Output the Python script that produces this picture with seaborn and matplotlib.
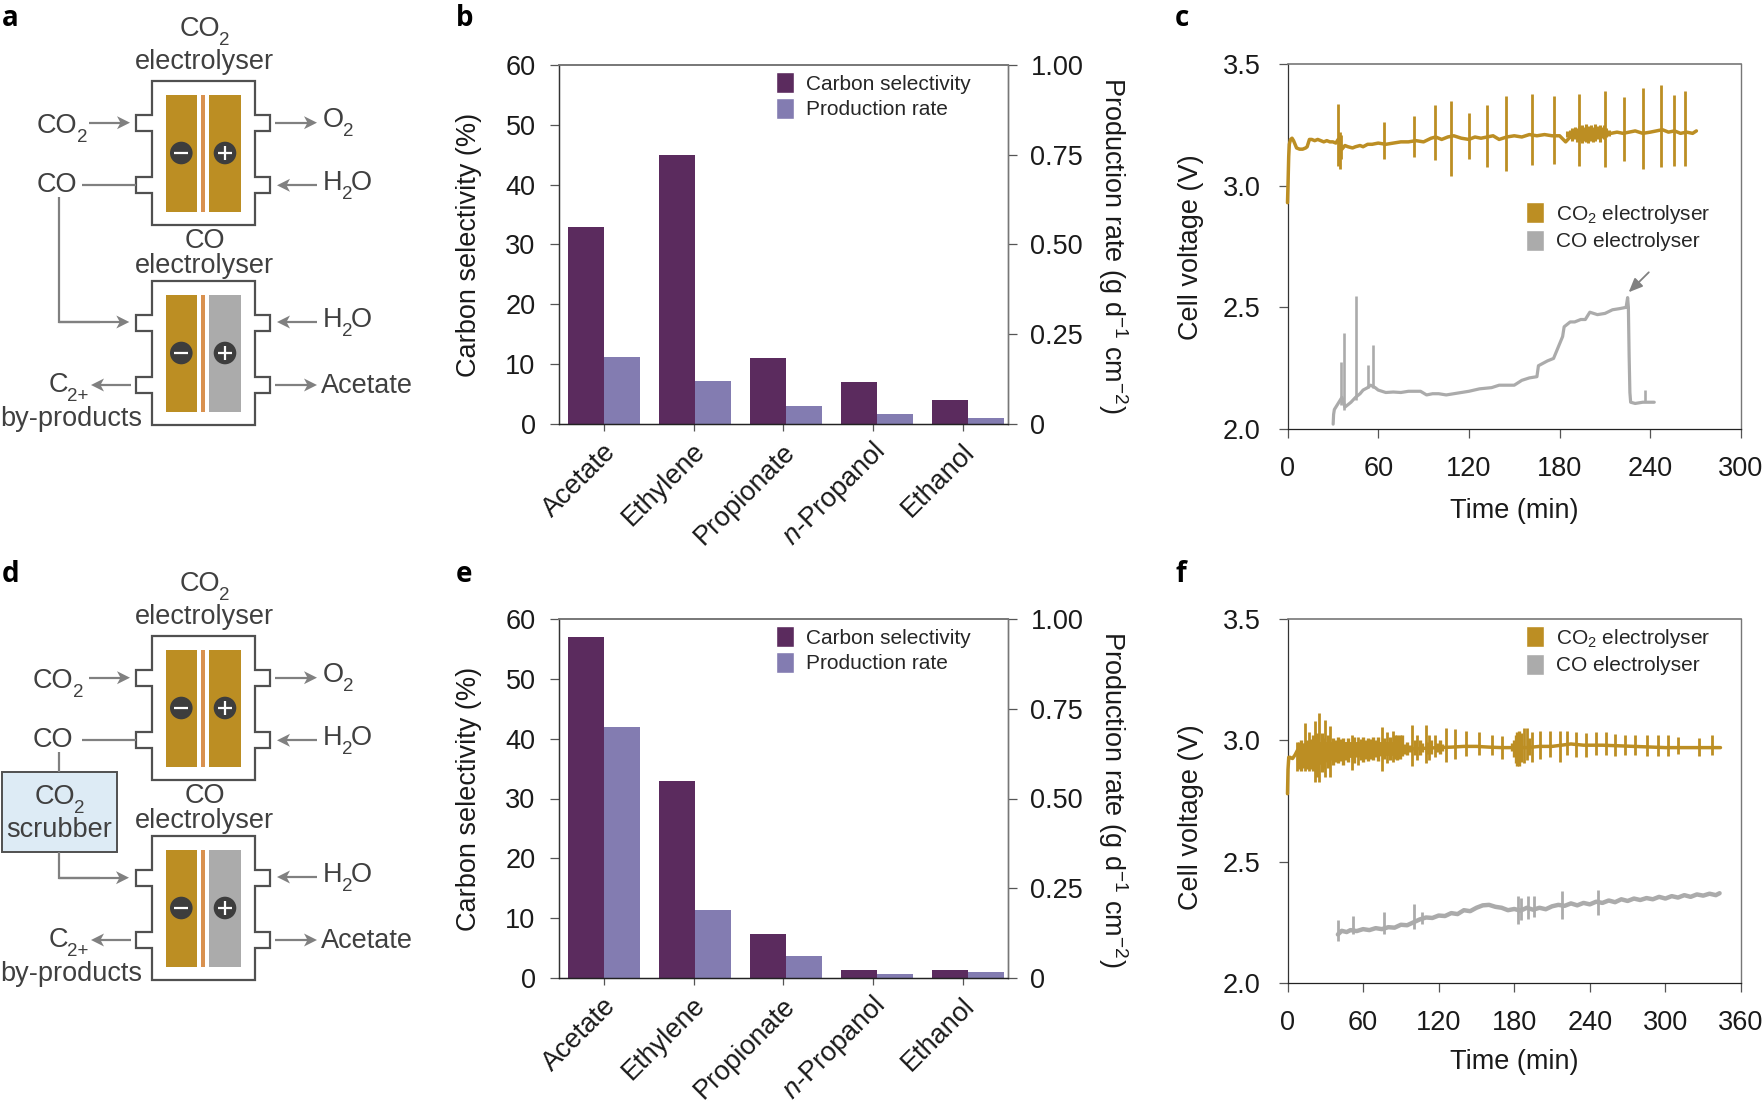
import matplotlib
matplotlib.use('Agg')
import matplotlib.pyplot as plt
import matplotlib.transforms as mtrans
from matplotlib.patches import Patch, Rectangle, Circle, Polygon
import pandas as pd
import seaborn as sns

W, H = 1762, 1104

# bar panels
products = ['Acetate', 'Ethylene', 'Propionate', r'$\mathit{n}$-Propanol', 'Ethanol']
selectivity_b = [33, 45, 11, 7, 4]
rate_b = [0.187, 0.12, 0.05, 0.028, 0.017]
selectivity_e = [57, 33, 7.3, 1.3, 1.3]
rate_e = [0.70, 0.19, 0.06, 0.012, 0.016]

# panel c traces
c_co2_t = [0, 0.4, 0.8, 1.2, 2, 3, 4, 5, 6, 8, 10, 12, 13, 14.5, 16, 18, 20, 22, 24, 26, 28, 30, 32, 33.5, 35, 36, 38, 40, 43, 45, 48, 50,
           53, 56, 60, 65, 70, 75, 80, 85, 90, 95, 98, 102, 106, 110, 115, 120, 124, 128, 132, 136, 140, 145, 150, 155, 160, 165, 170, 175, 180,
           184, 187, 190, 194, 198, 202, 206, 210, 214, 218, 222, 226, 230, 235, 240, 244, 248, 252, 256, 260, 264, 268, 270.5]
c_co2_v = [2.93, 3.02, 3.12, 3.17, 3.19, 3.195, 3.185, 3.17, 3.155, 3.15, 3.15, 3.155, 3.16, 3.19, 3.19, 3.185, 3.19, 3.185, 3.18, 3.185, 3.18, 3.18, 3.175, 3.19, 3.17, 3.15, 3.165, 3.16, 3.155, 3.16, 3.165, 3.16,
           3.17, 3.17, 3.175, 3.17, 3.175, 3.18, 3.18, 3.185, 3.18, 3.195, 3.2, 3.19, 3.2, 3.205, 3.195, 3.19, 3.2, 3.195, 3.2, 3.205, 3.19, 3.2, 3.205, 3.2, 3.21, 3.205, 3.21, 3.205, 3.205,
           3.18, 3.2, 3.215, 3.205, 3.22, 3.215, 3.21, 3.22, 3.215, 3.22, 3.215, 3.22, 3.225, 3.215, 3.22, 3.225, 3.23, 3.22, 3.225, 3.215, 3.22, 3.215, 3.225]
c_co2_spike_t = [33.6, 34.5, 35.5, 63.6, 83.7, 97.4, 108, 119.8, 132, 144.7, 161.5, 176.5, 193, 210, 222.5, 235.5, 247, 256, 263]
c_co2_spike_hi = [3.335, 3.22, 3.21, 3.262, 3.285, 3.33, 3.35, 3.30, 3.33, 3.368, 3.375, 3.368, 3.378, 3.39, 3.365, 3.403, 3.412, 3.372, 3.387]
c_co2_spike_lo = [3.08, 3.068, 3.11, 3.11, 3.118, 3.105, 3.04, 3.108, 3.075, 3.06, 3.085, 3.09, 3.082, 3.077, 3.103, 3.068, 3.078, 3.08, 3.08]
c_co2_dense_t = [185, 187, 188.5, 190, 191.5, 193, 194.5, 196, 197.5, 199, 200.5, 202, 203.5, 205, 206.5, 208, 209.5, 211, 213]
c_co2_dense_hi = [3.225, 3.23, 3.235, 3.24, 3.235, 3.245, 3.25, 3.24, 3.255, 3.245, 3.25, 3.24, 3.255, 3.245, 3.25, 3.24, 3.25, 3.235, 3.23]
c_co2_dense_lo = [3.2, 3.195, 3.185, 3.19, 3.18, 3.185, 3.175, 3.185, 3.18, 3.175, 3.185, 3.18, 3.185, 3.19, 3.18, 3.195, 3.19, 3.2, 3.205]

c_co_t = [30.2, 30.5, 31, 33, 35, 36, 38, 40, 42, 45, 48, 50, 53, 55, 58, 60, 65, 70, 75, 80, 88, 92, 96, 100, 105, 110, 115, 120, 127, 135,
          140, 145, 150, 155, 160, 165, 166, 169, 172, 176, 178, 180, 182, 183, 187, 190, 194, 197, 200, 205, 210, 215, 220, 224, 225, 225.5, 226, 226.5, 227, 230, 235, 239, 242.6]
c_co_v = [2.02, 2.06, 2.08, 2.10, 2.12, 2.13, 2.09, 2.10, 2.11, 2.13, 2.145, 2.16, 2.17, 2.18, 2.17, 2.16, 2.15, 2.152, 2.15, 2.155, 2.155, 2.14, 2.145, 2.145, 2.14, 2.145, 2.15, 2.155, 2.165, 2.17,
          2.18, 2.18, 2.18, 2.20, 2.21, 2.215, 2.26, 2.27, 2.28, 2.29, 2.32, 2.35, 2.38, 2.42, 2.44, 2.44, 2.45, 2.45, 2.48, 2.47, 2.475, 2.49, 2.495, 2.50, 2.54, 2.50, 2.30, 2.15, 2.11, 2.105, 2.11, 2.11, 2.11]
c_co_spike_t = [35.6, 37.5, 45, 53, 56.5, 236.5]
c_co_spike_hi = [2.274, 2.395, 2.548, 2.264, 2.344, 2.16]
c_co_spike_lo = [2.10, 2.077, 2.12, 2.17, 2.17, 2.11]

# panel f traces
f_co2_t = [0, 0.4, 1, 2, 4, 6, 8, 40, 80, 100, 120, 130, 140, 150, 160, 170, 180, 190, 200, 210, 225, 235, 250, 260, 275, 290, 300, 320, 343.7]
f_co2_v = [2.78, 2.88, 2.93, 2.93, 2.925, 2.94, 2.96, 2.96, 2.965, 2.965, 2.97, 2.972, 2.975, 2.975, 2.972, 2.97, 2.97, 2.97, 2.975, 2.975, 2.985, 2.98, 2.98, 2.978, 2.975, 2.972, 2.97, 2.97, 2.97]
f_co2_band_t = [7, 15, 25, 35, 50, 70, 90]
f_co2_band_hi = [2.985, 2.99, 2.995, 2.995, 2.995, 2.995, 2.995]
f_co2_band_lo = [2.92, 2.91, 2.90, 2.92, 2.93, 2.935, 2.94]
f_co2_spike_t = [7.6, 14, 17, 22, 25, 30, 34, 51, 56, 75, 79, 83.5, 99, 103, 109.6, 112.6, 117, 125.8, 133, 142, 152, 162, 170,
                 187.6, 190, 194, 200.8, 208, 216, 222, 229, 236.6, 245, 252.5, 260, 268, 276, 285, 294, 302, 310, 327, 337]
f_co2_spike_hi = [2.995, 3.07, 3.036, 3.08, 3.114, 3.084, 3.06, 3.02, 3.015, 3.056, 3.036, 3.04, 3.063, 3.02, 3.063, 3.02, 3.02, 3.05, 3.045, 3.04, 3.036, 3.02, 3.016,
                  3.05, 3.05, 3.036, 3.04, 3.04, 3.04, 3.04, 3.036, 3.03, 3.036, 3.036, 3.025, 3.02, 3.02, 3.02, 3.02, 3.02, 3.015, 3.01, 3.02]
f_co2_spike_lo = [2.873, 2.875, 2.875, 2.83, 2.83, 2.85, 2.85, 2.877, 2.9, 2.875, 2.905, 2.91, 2.894, 2.92, 2.905, 2.92, 2.93, 2.91, 2.925, 2.935, 2.94, 2.94, 2.925,
                  2.905, 2.92, 2.91, 2.925, 2.93, 2.91, 2.94, 2.93, 2.93, 2.94, 2.94, 2.935, 2.94, 2.94, 2.935, 2.935, 2.935, 2.945, 2.935, 2.94]
f_co2_dense_t = [9, 11, 12.5, 15.5, 19, 20.5, 23.5, 27, 28.5, 32, 36, 38, 40, 42, 44, 46, 48, 53, 58, 60, 62, 64, 66, 68, 70, 72, 77, 81, 85, 87, 89, 91, 93, 95, 97, 101, 105, 107, 111, 114, 119, 121, 123,
                 178, 179.5, 181, 182.5, 184, 185.5, 192]
f_co2_dense_hi = [2.995, 3.0, 2.99, 3.0, 3.005, 3.02, 3.03, 3.03, 3.01, 3.02, 3.01, 3.0, 3.015, 3.005, 3.01, 2.995, 3.01, 3.015, 3.005, 3.015, 3.0, 3.01, 3.005, 3.012, 3.0, 3.015, 3.01, 3.015, 3.02, 3.02, 3.02, 3.02, 2.985, 2.995, 2.98, 3.0, 3.0, 2.99, 2.995, 3.0, 2.99, 3.0, 2.985,
                  2.99, 3.0, 3.02, 3.035, 3.04, 3.03, 3.01]
f_co2_dense_lo = [2.88, 2.875, 2.885, 2.88, 2.88, 2.875, 2.85, 2.87, 2.88, 2.885, 2.9, 2.91, 2.905, 2.915, 2.9, 2.92, 2.91, 2.905, 2.92, 2.91, 2.925, 2.915, 2.925, 2.92, 2.93, 2.915, 2.925, 2.92, 2.925, 2.92, 2.925, 2.935, 2.945, 2.94, 2.95, 2.94, 2.94, 2.95, 2.945, 2.945, 2.95, 2.945, 2.955,
                  2.955, 2.93, 2.905, 2.895, 2.895, 2.91, 2.94]

f_co_t = [40, 43, 47, 50, 55, 60, 65, 70, 75, 80, 85, 90, 95, 100, 105, 110, 115, 120, 125, 130, 135, 140, 145, 150, 155, 160, 165, 170, 175, 180, 185, 190, 195, 200, 205, 210, 215, 220, 225, 230, 235, 240, 245, 250, 255, 260, 265, 270, 275, 280, 285, 290, 295, 300, 305, 310, 315, 320, 325, 330, 335, 340, 343]
f_co_v = [2.20, 2.215, 2.21, 2.218, 2.214, 2.222, 2.218, 2.226, 2.222, 2.23, 2.228, 2.24, 2.238, 2.25, 2.262, 2.27, 2.268, 2.278, 2.276, 2.288, 2.284, 2.30, 2.296, 2.31, 2.32, 2.322, 2.314, 2.31, 2.30, 2.305, 2.298, 2.31, 2.302, 2.31, 2.304, 2.316, 2.322, 2.318, 2.328, 2.32, 2.33, 2.324, 2.335, 2.33, 2.34, 2.333, 2.345, 2.338, 2.348, 2.342, 2.35, 2.345, 2.355, 2.348, 2.358, 2.352, 2.362, 2.355, 2.365, 2.36, 2.368, 2.362, 2.37]
f_co_spike_t = [40, 52, 76.8, 100.7, 107, 183, 185, 190.7, 196, 218, 246.7]
f_co_spike_hi = [2.259, 2.275, 2.293, 2.327, 2.293, 2.36, 2.35, 2.36, 2.36, 2.38, 2.382]
f_co_spike_lo = [2.173, 2.20, 2.2, 2.224, 2.245, 2.245, 2.26, 2.265, 2.27, 2.263, 2.282]

GOLD = '#BC8E23'
GREY = '#ABABAB'
PURPLE = '#5B2B5E'
LILAC = '#837CB1'
TXT = '#404040'
ARROW = '#808080'
DARK = '#1a1a1a'
FS = 19.5

sns.set_theme(style='ticks')
plt.rcParams['font.family'] = ['Liberation Sans', 'DejaVu Sans']
plt.rcParams['mathtext.fontset'] = 'custom'
plt.rcParams['mathtext.rm'] = 'Liberation Sans'
plt.rcParams['mathtext.it'] = 'Liberation Sans:italic'
plt.rcParams['mathtext.bf'] = 'Liberation Sans:bold'
plt.rcParams['mathtext.default'] = 'regular'

fig = plt.figure(figsize=(W / 100, H / 100), dpi=100)
renderer = fig.canvas.get_renderer()


def px_axes(left, top, right, bottom):
    return fig.add_axes([left / W, 1 - bottom / H, (right - left) / W, (bottom - top) / H])


def fig_pt(x, y):
    return (x / W, 1 - y / H)


# schematic layer in pixel coords
sk = fig.add_axes([0, 0, 1, 1])
sk.set_xlim(0, W)
sk.set_ylim(H, 0)
sk.axis('off')


def line(xs, ys):
    sk.plot(xs, ys, color=ARROW, lw=1.6, solid_capstyle='butt', solid_joinstyle='miter')


def arrow(x0, y0, x1, y1):
    # horizontal shaft with a notched head
    d = 1 if x1 > x0 else -1
    line([x0, x1 - d * 8], [y0, y1])
    sk.add_patch(Polygon([(x1, y1), (x1 - d * 13, y1 - 6.5), (x1 - d * 9.5, y1), (x1 - d * 13, y1 + 6.5)],
                         closed=True, fc=ARROW, ec='none'))


def rich(x, y, parts, ha='left'):
    # parts are (text, is_subscript); y is the middle of the capitals
    texts = []
    cur = 0
    for s, is_sub in parts:
        t = sk.text(0, 0, s, fontsize=13.5 if is_sub else FS, color=TXT, ha='left', va='baseline')
        w = t.get_window_extent(renderer).width
        texts.append((t, cur, is_sub))
        cur += w - 1
    x0 = x - cur / 2 if ha == 'center' else x
    for t, off, is_sub in texts:
        t.set_position((x0 + off, y + (18 if is_sub else 9.3)))


def cell(top, anode):
    l, r, nl, nr = 151.7, 255, 135.7, 270.3
    pts = [(l, top), (r, top), (r, top + 34), (nr, top + 34), (nr, top + 50), (r, top + 50),
           (r, top + 96), (nr, top + 96), (nr, top + 112), (r, top + 112), (r, top + 144),
           (l, top + 144), (l, top + 112), (nl, top + 112), (nl, top + 96), (l, top + 96),
           (l, top + 50), (nl, top + 50), (nl, top + 34), (l, top + 34)]
    sk.add_patch(Polygon(pts, closed=True, fc='white', ec='#505050', lw=1.6))
    sk.add_patch(Rectangle((165.7, top + 14), 31.3, 116.7, fc=GOLD, ec='none'))
    sk.add_patch(Rectangle((201, top + 14), 4, 116.7, fc='#D9914F', ec='none'))
    sk.add_patch(Rectangle((209, top + 14), 32, 116.7, fc=anode, ec='none'))
    for cx, sign in [(181.3, '-'), (225, '+')]:
        sk.add_patch(Circle((cx, top + 72), 11.3, fc='#3D3D3D', ec='none'))
        sk.plot([cx - 7, cx + 7], [top + 72, top + 72], color='white', lw=1.6, solid_capstyle='butt')
        if sign == '+':
            sk.plot([cx, cx], [top + 65, top + 79], color='white', lw=1.6, solid_capstyle='butt')


def schematic(dy, scrubber):
    co2 = [('CO', False), ('2', True)]
    h2o = [('H', False), ('2', True), ('O', False)]
    cell(81 + dy, GOLD)
    cell(281 + dy, GREY)
    rich(204, 27 + dy, co2, ha='center')
    rich(204, 60 + dy, [('electrolyser', False)], ha='center')
    rich(204, 239 + dy, [('CO', False)], ha='center')
    rich(204, 264 + dy, [('electrolyser', False)], ha='center')
    co_x = 33 if scrubber else 37
    rich(co_x, 124 + dy, co2)
    rich(co_x, 183 + dy, [('CO', False)])
    arrow(89, 122.7 + dy, 130, 122.7 + dy)
    line([81.7, 135.7], [185.3 + dy, 185.3 + dy])
    arrow(275, 122.7 + dy, 317, 122.7 + dy)
    rich(323, 118 + dy, [('O', False), ('2', True)])
    arrow(317, 185.3 + dy, 277, 185.3 + dy)
    rich(323, 181 + dy, h2o)
    arrow(317, 322 + dy, 277, 322 + dy)
    rich(323, 318 + dy, h2o)
    arrow(275, 385 + dy, 317, 385 + dy)
    rich(321, 384 + dy, [('Acetate', False)])
    arrow(131, 385 + dy, 91, 385 + dy)
    rich(49, 383 + dy, [('C', False), ('2+', True)])
    rich(0, 417 + dy, [('by-products', False)])
    if scrubber:
        line([59, 59], [752, 772])
        line([59, 59, 100], [852, 877.7, 877.7])
        arrow(59, 877.7, 129, 877.7)
        sk.add_patch(Rectangle((1.7, 772), 115.3, 80, fc='#DDEBF5', ec='#505050', lw=1.4))
        rich(59, 795, co2, ha='center')
        rich(59, 828, [('scrubber', False)], ha='center')
    else:
        line([59, 59, 100], [197.3, 322, 322])
        arrow(59, 322, 129.3, 322)


schematic(0, False)
schematic(555, True)

for s, x, y in [('a', 2, 19), ('b', 456, 19), ('c', 1175, 19), ('d', 2, 575), ('e', 456, 575), ('f', 1175, 575)]:
    sk.text(x, y, s, ha='left', va='center', fontsize=20, fontweight='bold', color='black', family='Open Sans')


def style_spines(ax):
    ax.spines['left'].set(color='#333333', linewidth=0.9)
    ax.spines['bottom'].set(color='#222222', linewidth=0.9)
    ax.spines['top'].set(visible=True, color='#777777', linewidth=1.2)
    ax.spines['right'].set(visible=True, color='#777777', linewidth=1.0)
    ax.tick_params(length=6.5, width=0.9, color='#555555', labelsize=FS, labelcolor=DARK, pad=10)
    ax.patch.set_alpha(0)


def legend_args(x, y):
    return dict(loc='upper left', bbox_to_anchor=fig_pt(x, y), bbox_transform=fig.transFigure, frameon=False,
                fontsize=15, borderpad=0, borderaxespad=0, handlelength=0.87, handleheight=1.17,
                labelspacing=0.2, handletextpad=0.58)


def bar_panel(top, selectivity, rate):
    ax = px_axes(558.5, top, 1007.5, top + 359)
    df = pd.DataFrame({
        'product': products * 2,
        'series': ['Carbon selectivity'] * 5 + ['Production rate'] * 5,
        # rate shares the bars' axis: 1.00 on the right lines up with 60 on the left
        'value': selectivity + [r * 60 for r in rate],
    })
    sns.barplot(data=df, x='product', y='value', hue='series', palette=[PURPLE, LILAC],
                width=0.8, saturation=1, gap=0, ax=ax, legend=False, edgecolor='none', linewidth=0)
    ax.set_xlim(-0.5, -0.5 + 449 / 91)
    ax.set_ylim(0, 60)
    ax.set_yticks([0, 10, 20, 30, 40, 50, 60])
    ax.set_xticks([i * 0.985 for i in range(5)])
    ax.set_xticklabels(products, rotation=45, ha='right', va='center', rotation_mode='anchor')
    style_spines(ax)
    ax.tick_params(axis='x', length=5, pad=12)
    shift = mtrans.ScaledTranslation(8 / 100, 0, fig.dpi_scale_trans)
    for t in ax.get_xticklabels():
        t.set_transform(t.get_transform() + shift)
    ax.set_xlabel('')
    ax.set_ylabel('')
    sk.text(469.5, top + 180, 'Carbon selectivity (%)', rotation=90, ha='center', va='center', fontsize=FS, color=DARK)
    sk.text(1113, top + 180, 'Production rate (g d$^{-1}$ cm$^{-2}$)', rotation=270, ha='center', va='center', fontsize=FS, color=DARK)
    ax2 = ax.twinx()
    ax2.set_ylim(0, 1)
    ax2.set_yticks([0, 0.25, 0.5, 0.75, 1.0])
    ax2.set_yticklabels(['0', '0.25', '0.50', '0.75', '1.00'])
    style_spines(ax2)
    ax2.set_ylabel('')
    ax2.grid(False)
    handles = [Patch(fc=PURPLE, label='Carbon selectivity'), Patch(fc=LILAC, label='Production rate')]
    ax.legend(handles=handles, **legend_args(776, top + 7))


def trace(ax, t, v, color, lw=1.6):
    sns.lineplot(x=t, y=v, color=color, linewidth=lw, estimator=None, sort=False, ax=ax, legend=False,
                 clip_on=False, zorder=3)


def voltage_panel(top, bottom, xticks, xmax, lab_y, xlab_y, leg_y):
    ax = px_axes(1287.5, top, 1741, bottom)
    ax.set_xlim(0, xmax)
    ax.set_ylim(2, 3.5)
    ax.set_xticks(xticks)
    ax.set_yticks([2, 2.5, 3, 3.5])
    ax.set_yticklabels(['2.0', '2.5', '3.0', '3.5'])
    style_spines(ax)
    ax.tick_params(pad=13)
    sk.text(1191, lab_y, 'Cell voltage (V)', rotation=90, ha='center', va='center', fontsize=FS, color=DARK)
    sk.text(1514, xlab_y, 'Time (min)', ha='center', va='center', fontsize=FS, color=DARK)
    handles = [Patch(fc=GOLD, label='CO$_{2}$ electrolyser'), Patch(fc=GREY, label='CO electrolyser')]
    ax.legend(handles=handles, **legend_args(1526, leg_y))
    return ax


bar_panel(65, selectivity_b, rate_b)
bar_panel(619, selectivity_e, rate_e)

ax_c = voltage_panel(64, 429, [0, 60, 120, 180, 240, 300], 300, 247, 511, 202)
trace(ax_c, c_co2_t, c_co2_v, GOLD, 2.5)
ax_c.vlines(c_co2_spike_t, c_co2_spike_lo, c_co2_spike_hi, color=GOLD, lw=2.0)
ax_c.vlines(c_co2_dense_t, c_co2_dense_lo, c_co2_dense_hi, color=GOLD, lw=2.2)
trace(ax_c, c_co_t, c_co_v, GREY, 2.3)
ax_c.vlines(c_co_spike_t, c_co_spike_lo, c_co_spike_hi, color=GREY, lw=1.9)
ax_c.annotate('', xy=(225.7, 2.562), xytext=(239, 2.644),
              arrowprops=dict(arrowstyle='-|>,head_length=0.7,head_width=0.3', color=ARROW, lw=1.3, shrinkA=0, shrinkB=0, mutation_scale=12))

ax_f = voltage_panel(619, 983, [0, 60, 120, 180, 240, 300, 360], 360, 817, 1062, 626)
ax_f.fill_between(f_co2_band_t, f_co2_band_lo, f_co2_band_hi, color=GOLD, lw=0)
trace(ax_f, f_co2_t, f_co2_v, GOLD, 2.5)
ax_f.vlines(f_co2_spike_t, f_co2_spike_lo, f_co2_spike_hi, color=GOLD, lw=2.0)
ax_f.vlines(f_co2_dense_t, f_co2_dense_lo, f_co2_dense_hi, color=GOLD, lw=2.4)
trace(ax_f, f_co_t, f_co_v, GREY, 3.2)
ax_f.vlines(f_co_spike_t, f_co_spike_lo, f_co_spike_hi, color=GREY, lw=2.0)

fig.savefig('out.png', dpi=100)
